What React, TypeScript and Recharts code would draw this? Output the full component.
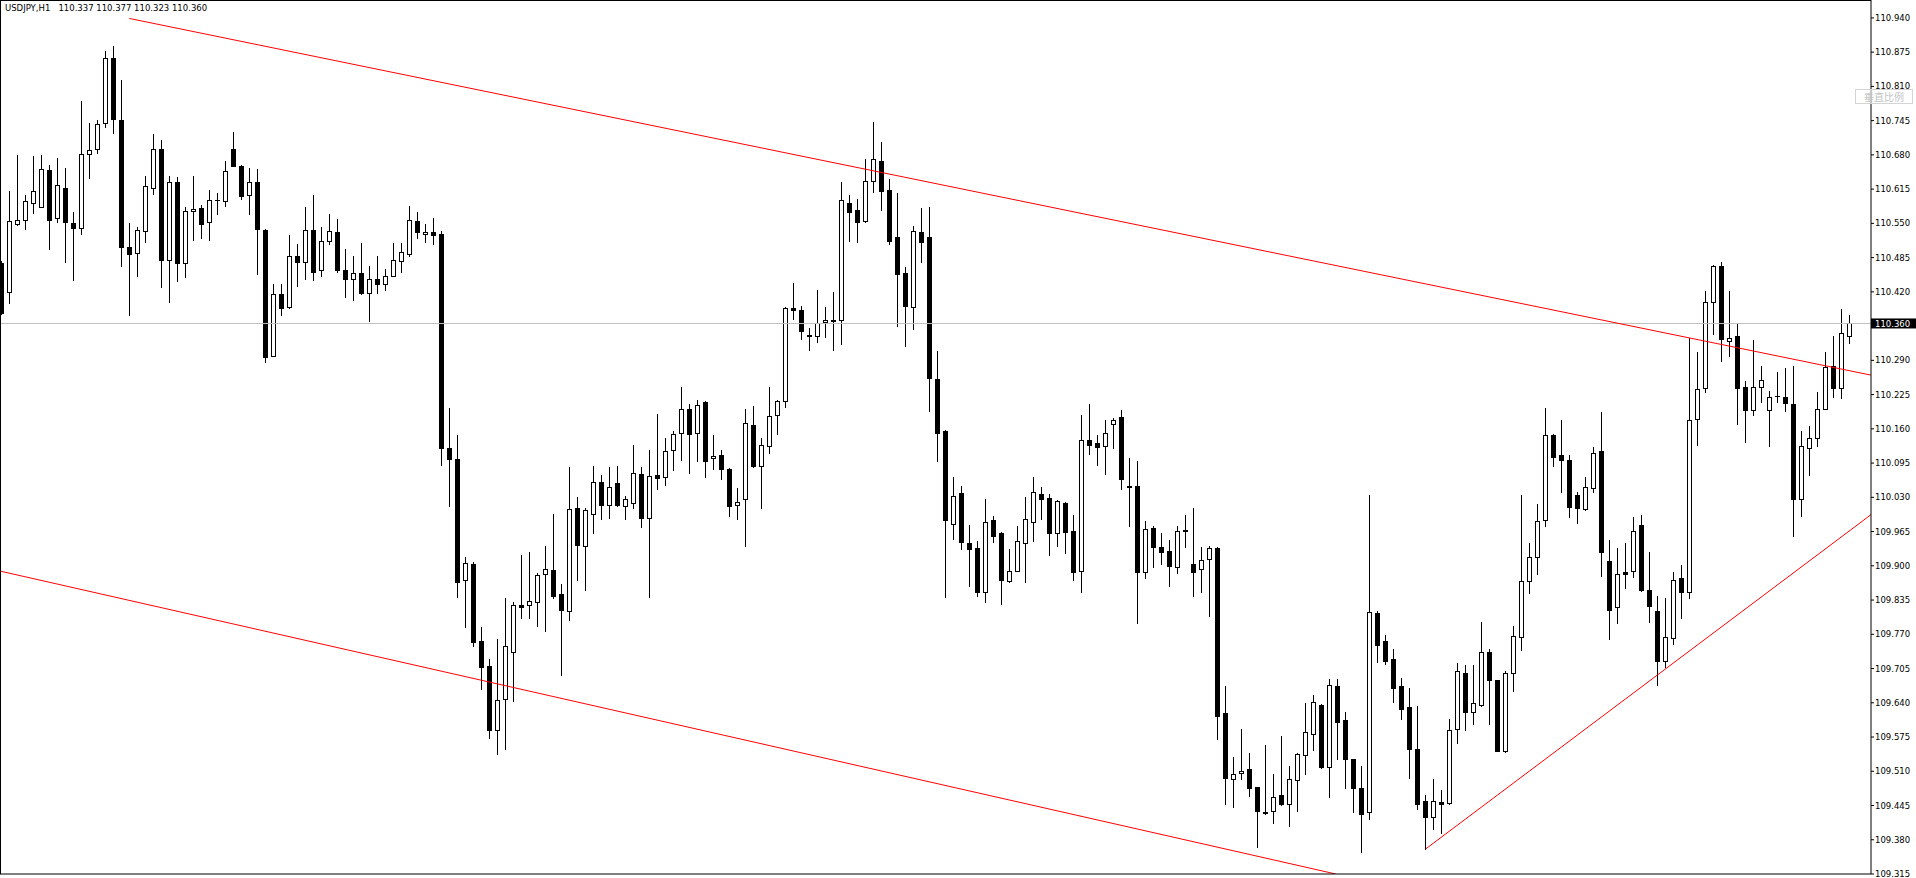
import { ComposedChart, Bar, XAxis, YAxis, ReferenceLine } from 'recharts';

// USDJPY H1, bar index 0..231 (left to right)
const opens = [
  110.474, 110.420, 110.548, 110.557, 110.589, 110.582, 110.652, 110.561, 110.618, 110.550,
  110.542, 110.681, 110.692, 110.740, 110.863, 110.746, 110.505, 110.493, 110.535, 110.618,
  110.692, 110.481, 110.628, 110.474, 110.573, 110.580, 110.553, 110.595, 110.592, 110.692,
  110.658, 110.603, 110.628, 110.538, 110.299, 110.415, 110.392, 110.489, 110.476, 110.538,
  110.461, 110.516, 110.534, 110.461, 110.445, 110.455, 110.418, 110.444, 110.434, 110.451,
  110.479, 110.492, 110.554, 110.529, 110.534, 110.529, 110.124, 110.103, 109.873, 109.904,
  109.757, 109.710, 109.588, 109.647, 109.736, 109.826, 109.826, 109.831, 109.885, 109.892,
  109.846, 109.814, 110.010, 109.937, 109.999, 110.059, 110.015, 110.058, 110.013, 110.020,
  110.075, 109.990, 110.073, 110.069, 110.119, 110.153, 110.198, 110.153, 110.210, 110.104,
  110.111, 110.083, 110.016, 110.026, 110.168, 110.090, 110.128, 110.186, 110.212, 110.389,
  110.385, 110.338, 110.337, 110.363, 110.366, 110.366, 110.588, 110.575, 110.555, 110.630,
  110.668, 110.613, 110.524, 110.455, 110.392, 110.533, 110.524, 110.254, 110.155, 109.980,
  110.039, 109.944, 109.933, 109.850, 109.987, 109.962, 109.871, 109.891, 109.944, 109.983,
  110.036, 110.028, 109.963, 110.019, 109.966, 109.891, 110.138, 110.133, 110.127, 110.169,
  110.182, 110.051, 110.051, 109.888, 109.971, 109.935, 109.928, 109.897, 109.968, 109.903,
  109.893, 109.912, 109.933, 109.620, 109.495, 109.506, 109.514, 109.480, 109.433, 109.434,
  109.465, 109.447, 109.493, 109.540, 109.580, 109.636, 109.519, 109.672, 109.607, 109.533,
  109.478, 109.432, 109.810, 109.757, 109.723, 109.672, 109.632, 109.552, 109.454, 109.423,
  109.451, 109.449, 109.591, 109.697, 109.622, 109.635, 109.736, 109.683, 109.548, 109.696,
  109.764, 109.871, 109.916, 109.987, 110.148, 110.110, 110.101, 110.034, 110.007, 110.047,
  110.118, 109.909, 109.821, 109.888, 109.890, 109.978, 109.855, 109.815, 109.720, 109.763,
  109.876, 109.851, 110.179, 110.238, 110.400, 110.470, 110.327, 110.337, 110.239, 110.196,
  110.240, 110.196, 110.223, 110.221, 110.208, 110.026, 110.124, 110.143, 110.198, 110.280,
  110.238, 110.337,
];

const highs = [
  110.479, 110.611, 110.680, 110.604, 110.678, 110.680, 110.661, 110.674, 110.655, 110.571,
  110.782, 110.740, 110.746, 110.877, 110.887, 110.822, 110.551, 110.543, 110.640, 110.720,
  110.708, 110.640, 110.638, 110.581, 110.640, 110.585, 110.613, 110.607, 110.668, 110.723,
  110.660, 110.655, 110.653, 110.540, 110.435, 110.435, 110.528, 110.511, 110.581, 110.604,
  110.543, 110.568, 110.558, 110.501, 110.489, 110.512, 110.470, 110.489, 110.463, 110.512,
  110.512, 110.583, 110.572, 110.548, 110.560, 110.535, 110.200, 110.148, 109.916, 109.908,
  109.783, 109.724, 109.762, 109.838, 109.832, 109.921, 109.927, 109.887, 109.938, 109.999,
  109.866, 110.087, 110.031, 110.010, 110.089, 110.073, 110.087, 110.089, 110.033, 110.129,
  110.087, 110.119, 110.189, 110.142, 110.155, 110.240, 110.207, 110.214, 110.212, 110.148,
  110.119, 110.085, 110.047, 110.197, 110.203, 110.143, 110.240, 110.214, 110.391, 110.436,
  110.393, 110.352, 110.423, 110.391, 110.419, 110.629, 110.604, 110.596, 110.673, 110.742,
  110.705, 110.635, 110.607, 110.467, 110.545, 110.579, 110.582, 110.307, 110.157, 110.068,
  110.051, 109.977, 109.947, 110.027, 109.995, 109.965, 109.932, 109.976, 110.031, 110.069,
  110.050, 110.036, 110.025, 110.021, 109.997, 110.187, 110.207, 110.149, 110.177, 110.180,
  110.196, 110.104, 110.099, 109.985, 109.976, 109.962, 109.949, 109.976, 109.997, 110.010,
  109.936, 109.938, 109.936, 109.672, 109.537, 109.590, 109.545, 109.481, 109.560, 109.505,
  109.577, 109.520, 109.544, 109.640, 109.655, 109.637, 109.685, 109.685, 109.623, 109.534,
  109.520, 110.035, 109.814, 109.769, 109.742, 109.687, 109.668, 109.634, 109.465, 109.495,
  109.474, 109.609, 109.716, 109.712, 109.712, 109.793, 109.742, 109.684, 109.700, 109.785,
  110.035, 109.943, 110.017, 110.200, 110.151, 110.177, 110.110, 110.040, 110.069, 110.125,
  110.192, 109.949, 109.934, 109.943, 109.993, 109.997, 109.927, 109.842, 109.838, 109.888,
  109.901, 110.333, 110.305, 110.421, 110.471, 110.476, 110.421, 110.360, 110.250, 110.328,
  110.280, 110.232, 110.267, 110.275, 110.280, 110.155, 110.166, 110.229, 110.305, 110.336,
  110.388, 110.377,
];

const lows = [
  110.378, 110.399, 110.546, 110.539, 110.570, 110.581, 110.502, 110.553, 110.477, 110.443,
  110.530, 110.637, 110.684, 110.733, 110.722, 110.470, 110.376, 110.450, 110.515, 110.606,
  110.430, 110.401, 110.441, 110.449, 110.519, 110.523, 110.519, 110.568, 110.583, 110.658,
  110.597, 110.568, 110.454, 110.286, 110.298, 110.376, 110.390, 110.431, 110.445, 110.443,
  110.450, 110.511, 110.458, 110.411, 110.405, 110.416, 110.365, 110.418, 110.424, 110.450,
  110.458, 110.488, 110.522, 110.515, 110.510, 110.091, 110.014, 109.841, 109.783, 109.748,
  109.667, 109.574, 109.542, 109.552, 109.644, 109.801, 109.801, 109.785, 109.776, 109.839,
  109.693, 109.798, 109.874, 109.854, 109.962, 109.989, 109.990, 110.013, 109.989, 110.010,
  109.973, 109.841, 110.046, 110.054, 110.082, 110.101, 110.076, 110.099, 110.069, 110.084,
  110.064, 109.995, 109.988, 109.938, 110.088, 110.010, 110.114, 110.151, 110.202, 110.369,
  110.330, 110.309, 110.324, 110.335, 110.310, 110.321, 110.517, 110.515, 110.553, 110.610,
  110.576, 110.511, 110.355, 110.317, 110.350, 110.477, 110.194, 110.099, 109.841, 109.951,
  109.931, 109.862, 109.843, 109.831, 109.946, 109.828, 109.870, 109.890, 109.870, 109.948,
  109.988, 109.921, 109.938, 109.925, 109.874, 109.851, 110.113, 110.092, 110.075, 110.123,
  110.045, 109.976, 109.792, 109.876, 109.897, 109.904, 109.862, 109.887, 109.935, 109.842,
  109.851, 109.805, 109.572, 109.447, 109.442, 109.495, 109.464, 109.367, 109.428, 109.412,
  109.446, 109.407, 109.435, 109.505, 109.550, 109.517, 109.462, 109.534, 109.479, 109.432,
  109.357, 109.419, 109.718, 109.713, 109.642, 109.610, 109.498, 109.438, 109.362, 109.400,
  109.392, 109.447, 109.563, 109.589, 109.599, 109.633, 109.599, 109.548, 109.547, 109.663,
  109.741, 109.849, 109.885, 109.975, 110.090, 110.041, 109.992, 109.982, 110.006, 110.041,
  109.881, 109.762, 109.792, 109.857, 109.878, 109.853, 109.793, 109.674, 109.707, 109.752,
  109.801, 109.839, 110.129, 110.230, 110.340, 110.289, 110.298, 110.169, 110.135, 110.186,
  110.211, 110.127, 110.211, 110.194, 109.957, 109.995, 110.072, 110.127, 110.197, 110.220,
  110.219, 110.323,
];

const closes = [
  110.380, 110.554, 110.557, 110.592, 110.611, 110.654, 110.557, 110.622, 110.553, 110.542,
  110.681, 110.690, 110.738, 110.863, 110.749, 110.506, 110.492, 110.538, 110.620, 110.692,
  110.481, 110.628, 110.475, 110.573, 110.578, 110.549, 110.595, 110.594, 110.649, 110.659,
  110.602, 110.628, 110.540, 110.297, 110.415, 110.390, 110.489, 110.477, 110.538, 110.458,
  110.516, 110.535, 110.462, 110.444, 110.455, 110.418, 110.445, 110.435, 110.451, 110.480,
  110.496, 110.557, 110.534, 110.534, 110.528, 110.123, 110.103, 109.869, 109.906, 109.755,
  109.708, 109.588, 109.646, 109.748, 109.826, 109.822, 109.833, 109.883, 109.893, 109.842,
  109.817, 110.008, 109.940, 110.006, 110.059, 110.015, 110.049, 110.015, 110.026, 110.077,
  109.990, 110.071, 110.066, 110.117, 110.150, 110.198, 110.151, 110.206, 110.099, 110.109,
  110.083, 110.014, 110.022, 110.172, 110.090, 110.129, 110.185, 110.212, 110.390, 110.386,
  110.345, 110.337, 110.360, 110.367, 110.364, 110.595, 110.572, 110.553, 110.630, 110.673,
  110.612, 110.517, 110.454, 110.393, 110.535, 110.515, 110.257, 110.152, 109.987, 110.033,
  109.945, 109.932, 109.850, 109.984, 109.957, 109.874, 109.890, 109.947, 109.988, 110.040,
  110.026, 109.963, 110.023, 109.965, 109.889, 110.138, 110.130, 110.126, 110.152, 110.176,
  110.064, 110.050, 109.888, 109.969, 109.935, 109.927, 109.900, 109.966, 109.967, 109.888,
  109.911, 109.933, 109.614, 109.497, 109.504, 109.510, 109.479, 109.435, 109.431, 109.462,
  109.447, 109.495, 109.542, 109.584, 109.641, 109.519, 109.674, 109.604, 109.534, 109.479,
  109.428, 109.812, 109.749, 109.720, 109.669, 109.629, 109.552, 109.448, 109.423, 109.453,
  109.447, 109.588, 109.700, 109.622, 109.639, 109.736, 109.683, 109.549, 109.696, 109.766,
  109.871, 109.917, 109.985, 110.148, 110.107, 110.100, 110.012, 110.009, 110.049, 110.114,
  109.926, 109.817, 109.884, 109.885, 109.966, 109.854, 109.824, 109.719, 109.765, 109.874,
  109.851, 110.176, 110.236, 110.400, 110.470, 110.331, 110.333, 110.238, 110.196, 110.240,
  110.253, 110.221, 110.222, 110.209, 110.026, 110.128, 110.143, 110.198, 110.278, 110.238,
  110.341, 110.360,
];

const priceTicks = [
  110.94, 110.875, 110.81, 110.745, 110.68, 110.615, 110.55, 110.485, 110.42, 110.36,
  110.29, 110.225, 110.16, 110.095, 110.03, 109.965, 109.9, 109.835, 109.77, 109.705,
  109.64, 109.575, 109.51, 109.445, 109.38, 109.315,
];
const timeTicks = [8, 24, 32, 40, 48, 56, 64, 72, 88, 96, 104, 112, 120, 128, 136, 152, 160, 168, 176, 184, 192, 200, 208, 216, 224, 232];

// hand-drawn trend lines (bar index, price)
const upperChannel = [{ x: 16, y: 110.939 }, { x: 233.7, y: 110.262 }];
const lowerChannel = [{ x: -0.16, y: 109.89 }, { x: 166.8, y: 109.315 }];
const risingLine = [{ x: 178, y: 109.362 }, { x: 233.7, y: 109.997 }];

const symbol = 'USDJPY,H1';
const last = closes[closes.length - 1];

const candles = opens.map((o, i) => ({ i, o, h: highs[i], l: lows[i], c: closes[i] }));

const FONT = '"DejaVu Sans", Tahoma, sans-serif';

function Candle(props: any) {
  const { x, y, width, height, payload } = props;
  if (!payload || height == null) return null;
  const { o, h, l, c } = payload;
  const top = Math.min(y, y + height);
  const bot = Math.max(y, y + height);
  const k = (bot - top) / (h - l);
  const py = (v: number) => top + (h - v) * k;
  const cx = Math.floor(x + width / 2) + 0.5;
  const b1 = Math.round(Math.min(py(o), py(c)));
  const b2 = Math.round(Math.max(py(o), py(c)));
  const wick = <line x1={cx} x2={cx} y1={Math.round(top)} y2={Math.round(bot) + 1} stroke="#000" strokeWidth={1} />;
  let body;
  if (b2 - b1 < 1) {
    body = <line x1={cx - 2.5} x2={cx + 2.5} y1={b1 + 0.5} y2={b1 + 0.5} stroke="#000" />;
  } else if (c < o) {
    body = <rect x={cx - 2.5} y={b1} width={5} height={b2 - b1 + 1} fill="#000" />;
  } else {
    body = <rect x={cx - 2} y={b1 + 0.5} width={4} height={b2 - b1} fill="#fff" stroke="#000" strokeWidth={1} />;
  }
  return (
    <g>
      {wick}
      {body}
    </g>
  );
}

function PriceTick(props: any) {
  const { x, y, payload } = props;
  const v = payload.value as number;
  const label = v.toFixed(3);
  if (Math.abs(v - last) < 1e-6) {
    return (
      <g>
        <rect x={x - 4} y={y - 5} width={45} height={10} fill="#000" />
        <text x={x} y={y} dy="0.36em" fill="#fff" fontSize={8.5} fontFamily={FONT}>{label}</text>
      </g>
    );
  }
  return (
    <text x={x} y={y} dy="0.36em" fill="#000" fontSize={8.5} fontFamily={FONT}>{label}</text>
  );
}

export default function App() {
  return (
    <div style={{ position: 'absolute', left: 0, top: 0, width: 1916, height: 878, background: '#fff' }}>
      <ComposedChart width={1916} height={878} data={candles} margin={{ top: 0, right: 0, bottom: 0, left: 0 }}>
        <XAxis
          type="number"
          dataKey="i"
          domain={[-0.1625, 233.71]}
          allowDataOverflow
          ticks={timeTicks}
          tick={false}
          tickSize={4}
          height={4}
          axisLine={{ stroke: '#000' }}
          tickLine={{ stroke: '#000' }}
        />
        <YAxis
          orientation="right"
          domain={[109.315, 110.974]}
          allowDataOverflow
          ticks={priceTicks}
          interval={0}
          width={45}
          tickSize={3}
          tickMargin={1}
          tick={<PriceTick />}
          axisLine={{ stroke: '#000' }}
          tickLine={{ stroke: '#000' }}
        />
        <ReferenceLine y={last} stroke="#c0c0c0" strokeWidth={1} />
        <Bar
          dataKey={(d: any) => [d.l, d.h]}
          barSize={5}
          shape={<Candle />}
          isAnimationActive={false}
        />
        <ReferenceLine segment={upperChannel} stroke="#ff0000" strokeWidth={1} ifOverflow="hidden" />
        <ReferenceLine segment={lowerChannel} stroke="#ff0000" strokeWidth={1} ifOverflow="hidden" />
        <ReferenceLine segment={risingLine} stroke="#ff0000" strokeWidth={1} ifOverflow="hidden" />
      </ComposedChart>
      <div
        style={{
          position: 'absolute', left: 0, top: 0, width: 1871, height: 874,
          borderLeft: '1px solid #000', borderTop: '1px solid #000', boxSizing: 'border-box', pointerEvents: 'none',
        }}
      />
      <div
        style={{
          position: 'absolute', left: 5, top: 3, fontFamily: FONT, fontSize: 8.5, lineHeight: '10px',
          color: '#000', whiteSpace: 'pre',
        }}
      >
        {symbol + '   ' + [opens[231], highs[231], lows[231], closes[231]].map((v) => v.toFixed(3)).join(' ')}
      </div>
      <div
        style={{
          position: 'absolute', left: 1855, top: 89, width: 58, height: 15, boxSizing: 'border-box',
          border: '1px solid #d4d4d4', background: 'rgba(255,255,255,0.55)', color: '#c4c4c4',
          fontFamily: '"Noto Sans CJK SC", sans-serif', fontSize: 10, lineHeight: '13px', textAlign: 'center',
        }}
      >
        垂直比例
      </div>
    </div>
  );
}
